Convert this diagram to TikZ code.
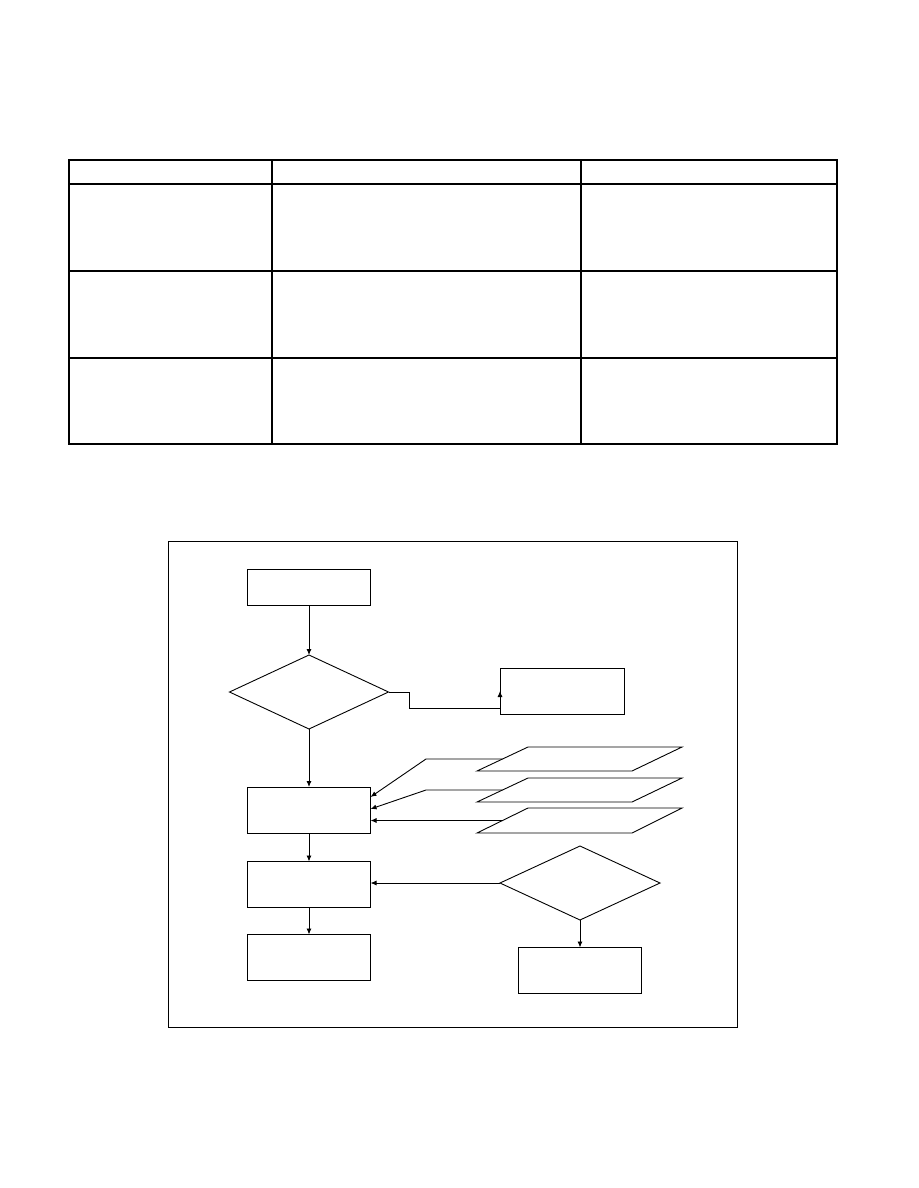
\documentclass[tikz,border=0pt]{standalone}
\usetikzlibrary{shapes.geometric,arrows.meta}
\begin{document}
\begin{tikzpicture}[x=1pt,y=-1pt,
  tbl/.style={line width=1.1pt},
  fbox/.style={draw,line width=0.9pt,rectangle,inner sep=0pt,outer sep=0pt,minimum width=123pt,minimum height=46pt},
  fdia/.style={draw,line width=0.9pt,diamond,inner sep=0pt,outer sep=0pt,minimum width=159pt,minimum height=74pt},
  para/.style={draw,line width=0.9pt},
  conn/.style={line width=0.9pt,-{Latex[length=6pt,width=5pt]}}]
\useasboundingbox (0,0) rectangle (918,1188);
% table
\draw[tbl] (69,160) rectangle (837,444);
\draw[tbl] (69,184) -- (837,184);
\draw[tbl] (69,271) -- (837,271);
\draw[tbl] (69,358) -- (837,358);
\draw[tbl] (272,160) -- (272,444);
\draw[tbl] (581,160) -- (581,444);
% frame
\draw[line width=0.9pt] (168,541) rectangle (737,1027);
% flowchart nodes
\node[fbox,minimum height=36pt] (b1) at (309,587) {};
\node[fdia] (d1) at (309,692) {};
\node[fbox,minimum width=124pt] (b2) at (562,691) {};
\node[fbox] (b3) at (309,810) {};
\node[fbox] (b4) at (309,884.5) {};
\node[fbox] (b5) at (309,957.5) {};
\node[fdia,minimum width=160pt] (d2) at (580,883) {};
\node[fbox] (b6) at (580,970.5) {};
% parallelograms
\draw[para] (477,771) -- (632,771) -- (682,747) -- (528,747) -- cycle;
\draw[para] (477,802) -- (632,802) -- (682,778) -- (528,778) -- cycle;
\draw[para] (477,833) -- (632,833) -- (682,808) -- (528,808) -- cycle;
\coordinate (p1) at (502.5,759);
\coordinate (p2) at (502.5,790);
\coordinate (p3) at (502.5,820.5);
% connectors
\draw[conn] (b1.south) -- (d1.north);
\draw[conn] (d1.east) -- (409,692) -- (409,708) -- (b2.west |- 0,708) -- (b2.west);
\draw[conn] (d1.south) -- (b3.north);
\draw[conn] (p1) -- (426,759) -- (b3.east |- 0,797);
\draw[conn] (p2) -- (426,790) -- (b3.east |- 0,809);
\draw[conn] (p3) -- (b3.east |- p3);
\draw[conn] (b3.south) -- (b4.north);
\draw[conn] (b4.south) -- (b5.north);
\draw[conn] (d2.west) -- (b4.east |- d2.west);
\draw[conn] (d2.south) -- (b6.north);
\end{tikzpicture}
\end{document}
